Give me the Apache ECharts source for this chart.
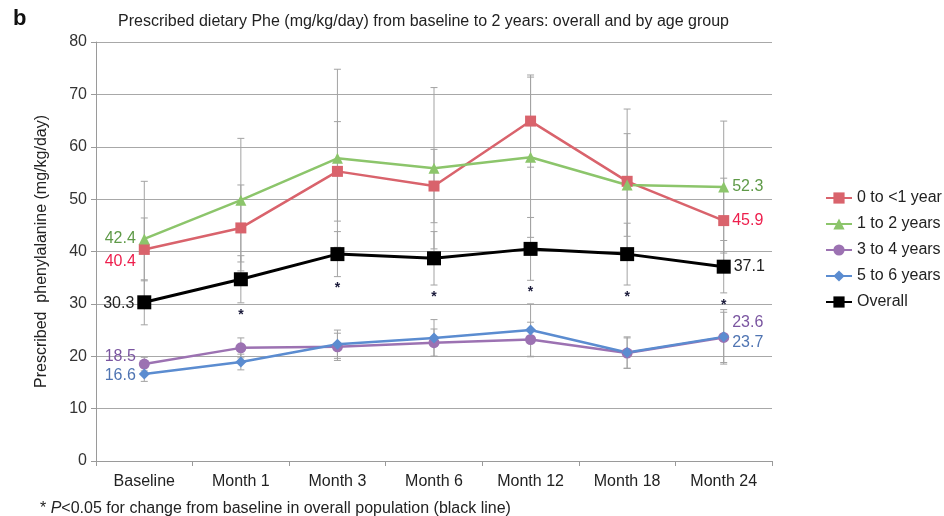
<!DOCTYPE html>
<html>
<head>
<meta charset="utf-8">
<script src="https://cdn.jsdelivr.net/npm/echarts@6/dist/echarts.min.js"></script>
<style>
  html, body { margin: 0; padding: 0; background: #fff; }
  #chart { width: 944px; height: 516px; }
</style>
</head>
<body>
<div id="chart"></div>
<script>
// Time points
const categories = ['Baseline', 'Month 1', 'Month 3', 'Month 6', 'Month 12', 'Month 18', 'Month 24'];

// Mean prescribed Phe (mg/kg/day)
const age0to1  = [40.4, 44.5, 55.3, 52.5, 64.9, 53.4, 45.9];
const age1to2  = [42.4, 49.8, 57.8, 55.9, 58.0, 52.7, 52.3];
const age3to4  = [18.5, 21.6, 21.8, 22.6, 23.2, 20.6, 23.6];
const age5to6  = [16.6, 18.9, 22.3, 23.5, 25.0, 20.7, 23.7];
const overall  = [30.3, 34.7, 39.5, 38.7, 40.5, 39.5, 37.1];

// Standard deviations (error bars)
const sd0to1   = [6.0, 8.2, 9.5, 7.0, 8.8, 13.8, 8.1];
const sd1to2   = [11.0, 11.8, 17.0, 15.4, 15.3, 9.8, 12.6];
const sd3to4   = [1.3, 1.9, 2.6, 2.6, 3.3, 2.9, 4.8];
const sd5to6   = [1.4, 1.5, 2.7, 3.5, 5.0, 3.0, 5.2];
const sdOverall = [4.3, 4.5, 4.3, 5.1, 6.0, 5.9, 5.0];

// P<0.05 vs baseline (overall population)
const significant = [false, true, true, true, true, true, true];

const yTicks = { min: 0, max: 80, interval: 10 };

const seriesDefs = [
  { name: '0 to <1 year', values: age0to1, sd: sd0to1, color: '#d9636c', labelColor: '#ee1f4d', symbol: 'rect', size: 11, width: 2.5, firstOff: [0, 12], lastOff: [0, 0] },
  { name: '1 to 2 years', values: age1to2, sd: sd1to2, color: '#8cc56b', labelColor: '#5f9a48', symbol: 'triangle', size: 11, width: 2.5, firstOff: [0, 0], lastOff: [0, 0] },
  { name: '3 to 4 years', values: age3to4, sd: sd3to4, color: '#9c72b2', labelColor: '#7a55a0', symbol: 'circle', size: 11, width: 2.5, firstOff: [0, -8], lastOff: [0, -15] },
  { name: '5 to 6 years', values: age5to6, sd: sd5to6, color: '#5b8cd0', labelColor: '#4f74b2', symbol: 'diamond', size: 11, width: 2.5, firstOff: [0, 2], lastOff: [0, 6] },
  { name: 'Overall', values: overall, sd: sdOverall, color: '#000000', labelColor: '#222222', symbol: 'rect', size: 14, width: 3, firstOff: [0, 1], lastOff: [0, 0] }
];

const fontFamily = '"Liberation Sans", Arial, sans-serif';

// Gray error bars with small caps; significance stars under the overall bars
function errorBarSeries(def) {
  const data = def.values.map((v, i) => [i, v - def.sd[i], v + def.sd[i], def.name === 'Overall' && significant[i] ? 1 : 0]);
  return {
    type: 'custom',
    name: def.name + ' SD',
    z: 1,
    silent: true,
    data: data,
    encode: { x: 0, y: [1, 2] },
    renderItem: function (params, api) {
      const lo = api.coord([api.value(0), api.value(1)]);
      const hi = api.coord([api.value(0), api.value(2)]);
      const half = 3.5;
      const style = { stroke: '#a3a3a3', lineWidth: 1 };
      const children = [
        { type: 'line', shape: { x1: lo[0], y1: lo[1], x2: hi[0], y2: hi[1] }, style: style },
        { type: 'line', shape: { x1: lo[0] - half, y1: lo[1], x2: lo[0] + half, y2: lo[1] }, style: style },
        { type: 'line', shape: { x1: hi[0] - half, y1: hi[1], x2: hi[0] + half, y2: hi[1] }, style: style }
      ];
      if (api.value(3) === 1) {
        children.push({
          type: 'text',
          style: { text: '*', x: lo[0], y: lo[1] + 5, align: 'center', verticalAlign: 'top', fill: '#1a1a3a', font: 'bold 14px "Liberation Sans", Arial, sans-serif' }
        });
      }
      return { type: 'group', children: children };
    }
  };
}

function lineSeries(def) {
  const last = def.values.length - 1;
  return {
    type: 'line',
    name: def.name,
    z: 5,
    data: def.values,
    symbol: def.symbol,
    symbolSize: def.size,
    showAllSymbol: true,
    itemStyle: { color: def.color },
    lineStyle: { color: def.color, width: def.width },
    label: {
      show: true,
      color: def.labelColor,
      fontSize: 16,
      fontFamily: fontFamily,
      formatter: function (p) {
        return (p.dataIndex === 0 || p.dataIndex === last) ? p.value.toFixed(1) : '';
      }
    },
    labelLayout: function (params) {
      const i = params.dataIndex;
      const r = params.rect;
      const lr = params.labelRect;
      if (i === 0) {
        return { x: r.x - lr.width - 3 + def.firstOff[0], y: r.y + r.height / 2 - lr.height / 2 + def.firstOff[1] };
      }
      return { x: r.x + r.width + 3 + def.lastOff[0], y: r.y + r.height / 2 - lr.height / 2 + def.lastOff[1] };
    },
    emphasis: { disabled: true }
  };
}

const chart = echarts.init(document.getElementById('chart'), null, { renderer: 'canvas' });

const series = [];
seriesDefs.forEach(d => series.push(errorBarSeries(d)));
seriesDefs.forEach(d => series.push(lineSeries(d)));

chart.setOption({
  animation: false,
  textStyle: { fontFamily: fontFamily },
  title: {
    text: 'Prescribed dietary Phe (mg/kg/day) from baseline to 2 years: overall and by age group',
    left: 113,
    top: 9,
    textStyle: { fontSize: 16, fontWeight: 'normal', color: '#222', fontFamily: fontFamily }
  },
  graphic: [
    { type: 'text', left: 13, top: 8, style: { text: 'b', font: 'bold 22px "Liberation Sans", Arial, sans-serif', fill: '#111' } },
    {
      type: 'text', left: 40, top: 501,
      style: {
        text: '{s|* }{i|P}{s|<0.05 for change from baseline in overall population (black line)}',
        rich: {
          s: { fontSize: 16, fill: '#222', fontFamily: fontFamily },
          i: { fontSize: 16, fill: '#222', fontStyle: 'italic', fontFamily: fontFamily }
        }
      }
    }
  ],
  legend: {
    orient: 'vertical',
    left: 820,
    top: 185,
    itemGap: 10,
    itemWidth: 26,
    itemHeight: 14,
    data: seriesDefs.map(d => d.name),
    textStyle: { fontSize: 16, color: '#222', fontFamily: fontFamily, padding: [0, 0, 0, 0] }
  },
  grid: { left: 96, right: 172, top: 42, bottom: 55 },
  xAxis: {
    type: 'category',
    data: categories,
    boundaryGap: true,
    axisLine: { lineStyle: { color: '#9a9a9a', width: 1 } },
    axisTick: { show: true, length: 5, lineStyle: { color: '#9a9a9a' } },
    axisLabel: { fontSize: 16, color: '#222', margin: 13, fontFamily: fontFamily }
  },
  yAxis: {
    type: 'value',
    min: yTicks.min,
    max: yTicks.max,
    interval: yTicks.interval,
    name: 'Prescribed  phenylalanine (mg/kg/day)',
    nameLocation: 'middle',
    nameGap: 46,
    nameTextStyle: { fontSize: 16, color: '#222', fontFamily: fontFamily },
    axisLine: { show: true, lineStyle: { color: '#9a9a9a', width: 1 } },
    axisTick: { show: true, length: 5, lineStyle: { color: '#9a9a9a' } },
    axisLabel: { fontSize: 16, color: '#333', margin: 9, fontFamily: fontFamily },
    splitLine: { show: true, lineStyle: { color: '#a8a8a8', width: 1 } }
  },
  series: series
});
</script>
</body>
</html>
